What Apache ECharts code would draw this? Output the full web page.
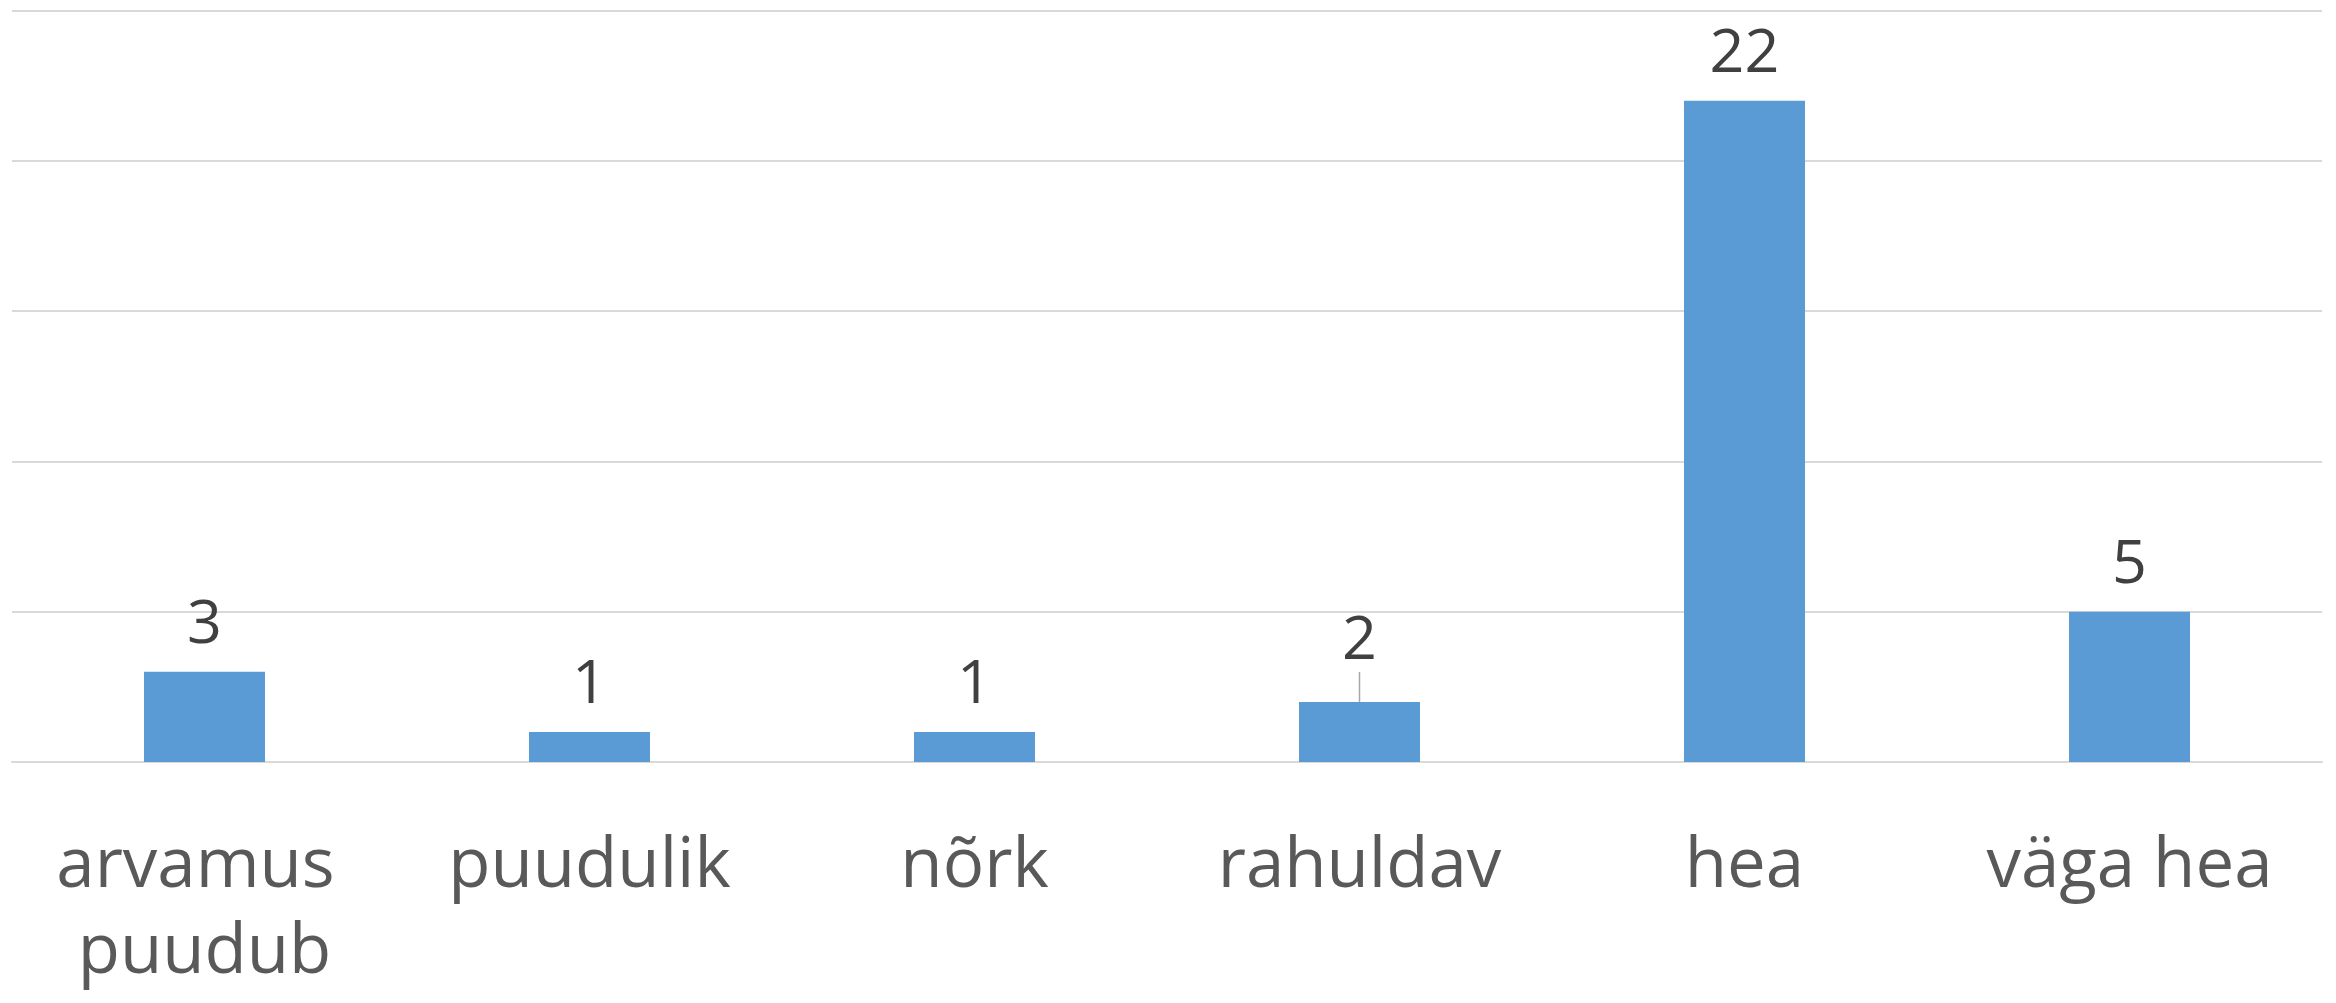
<!DOCTYPE html>
<html>
<head>
<meta charset="utf-8">
<script src="https://cdn.jsdelivr.net/npm/echarts@6/dist/echarts.min.js"></script>
<style>
html,body{margin:0;padding:0;background:#fff;}
#chart{width:2336px;height:1003px;}
</style>
</head>
<body>
<div id="chart"></div>
<script>
const categories = ["arvamus puudub", "puudulik", "nõrk", "rahuldav", "hea", "väga hea"];
const counts = [3, 1, 1, 2, 22, 5];
const yTicks = [0, 5, 10, 15, 20, 25];
const movedLabelIndex = 3;

const chart = echarts.init(document.getElementById('chart'));

const seriesData = counts.map((v, i) => (
  i === movedLabelIndex
    ? { value: v, labelLine: { show: true, lineStyle: { color: '#A6A6A6', width: 1.5 } } }
    : { value: v }
));

chart.setOption({
  animation: false,
  backgroundColor: '#ffffff',
  grid: { left: 12, right: 14, top: 10.5, bottom: 241, containLabel: false },
  xAxis: {
    type: 'category',
    data: categories,
    axisLine: { show: true, lineStyle: { color: '#D9D9D9', width: 2 } },
    axisTick: { show: false },
    axisLabel: {
      interval: 0,
      margin: 62,
      color: '#595959',
      fontFamily: 'Open Sans',
      fontSize: 69,
      lineHeight: 86,
      width: 380,
      overflow: 'break'
    }
  },
  yAxis: {
    type: 'value',
    min: yTicks[0],
    max: yTicks[yTicks.length - 1],
    interval: 5,
    axisLabel: { show: false },
    axisLine: { show: false },
    axisTick: { show: false },
    splitLine: { lineStyle: { color: '#D9D9D9', width: 2 } }
  },
  series: [{
    type: 'bar',
    data: seriesData,
    barWidth: 121,
    itemStyle: { color: '#5B9BD5' },
    label: {
      show: true,
      position: 'top',
      distance: 16,
      color: '#404040',
      fontFamily: 'Open Sans',
      fontSize: 61
    },
    labelLayout: function (params) {
      return params.dataIndex === movedLabelIndex ? { dy: -14 } : {};
    },
    labelLine: { show: false, lineStyle: { color: '#A6A6A6', width: 1.5 } }
  }]
});
</script>
</body>
</html>
